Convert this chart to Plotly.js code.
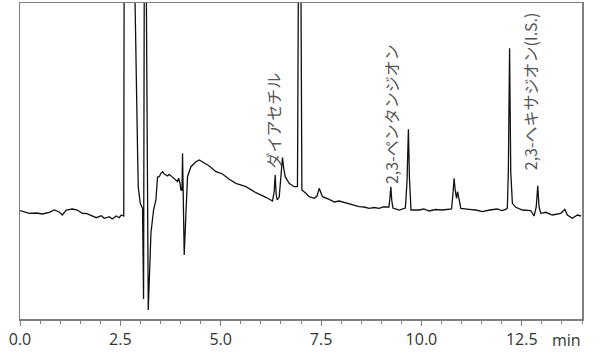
<!DOCTYPE html>
<html>
<head>
<meta charset="utf-8">
<script src="https://cdn.plot.ly/plotly-3.0.1.min.js"></script>
<style>html,body{margin:0;padding:0;background:#fff;}#chart{width:602px;height:353px;}</style>
</head>
<body>
<div id="chart"></div>
<script>
// Retention time (min)
const timeMin = [
  0.000,0.107,0.232,0.406,0.555,0.729,0.854,0.978,1.053,1.153,1.302,1.427,1.551,1.651,1.776,1.900,2.025,2.099,2.224,2.298,2.398,2.473,2.522,2.585,
  2.600,2.800,2.864,2.895,2.928,2.946,2.996,3.053,3.078,3.105,3.120,3.195,
  3.262,3.327,3.386,3.426,3.469,3.511,3.552,3.594,3.636,3.677,3.718,3.801,3.884,3.925,3.950,3.984,4.009,
  4.035,4.049,4.065,4.091,4.134,4.173,4.258,4.382,4.465,4.589,4.716,4.880,5.045,5.212,5.378,5.628,5.876,6.126,6.290,
  6.330,6.357,6.380,6.407,6.457,6.500,6.539,6.565,6.606,6.705,6.830,6.912,6.940,6.965,6.990,7.022,
  7.122,7.204,7.328,7.400,7.453,7.535,7.702,7.830,7.951,8.080,8.200,8.330,8.449,8.570,8.698,8.820,8.947,9.050,9.153,
  9.190,9.215,9.238,9.260,9.290,9.445,9.570,9.600,9.640,9.676,9.700,9.725,9.740,9.944,10.060,10.193,10.350,10.523,10.732,
  10.750,10.785,10.814,10.840,10.860,10.875,10.900,10.925,10.960,10.981,11.188,11.355,11.519,11.700,11.893,12.000,12.102,
  12.140,12.165,12.196,12.225,12.250,12.266,12.351,12.515,12.724,12.806,12.860,12.898,12.930,12.960,12.973,13.098,13.262,13.471,13.571,13.635,13.760,13.885,13.977
];
// Detector signal (arbitrary units, baseline ~0)
const signal = [
  1.3,0.3,-1.3,-1,-2,-0.3,2,0,-3,2,3,2,-1.3,-1.5,-3.7,-5.7,-3.7,-6.3,-4.7,-7,-4,-5.7,-3,-4,
  400,400,215,112,62,25,8.7,3.7,-87,400,400,-98,
  -21,2,12,35,35.3,38.7,40.3,38,37,36,37.7,34.7,32,30.3,33.7,29.3,22,
  22,58.7,20,-43,-1,35.3,45.3,50.3,52,49.3,46,40.3,38,32.7,28.7,25.3,19.3,14.7,11,
  20,37,18,12,15,35,54.5,45,35.3,28.7,25.3,25.3,300,500,300,22,
  18.7,15.3,13.7,16,23.7,15.3,12.7,10,11,9.5,8,6.5,5.3,5,3.7,4.5,3.7,5,5.3,
  5,14,25.3,12,4,2,3.7,4,30,82.7,35,6,2,2,3,1,2.5,2,2.7,
  3,18,33.7,22,14,13.7,20.3,15,5,3.7,2.7,2,0.3,2,3,1.5,2.7,
  4,40,163.7,40,12,8.7,4.7,2,1.3,-4,5,26.3,5,-1,-1.3,-0.3,-3,-1.3,2.7,-3,-6.3,-3,-4
];
// Peak labels
const peakNames = ["ダイアセチル", "2,3-ペンタンジオン", "2,3-ヘキサジオン(I.S.)"];
const peakLabelX = [6.29, 9.245, 12.71];
const peakLabelY = [42, 27, 41];
// Axis ticks
const xTickStart = 0, xTickStep = 2.5, xMinorStep = 0.5;
const xUnit = "min";

const frameColor = '#7f7f7f';
const annotations = peakNames.map((name, i) => ({
  x: peakLabelX[i], y: peakLabelY[i], xref: 'x', yref: 'y',
  text: name, showarrow: false, textangle: -90,
  xanchor: 'center', yanchor: 'bottom', borderpad: 0,
  font: {family: '"Noto Sans CJK JP", "Noto Sans", sans-serif', size: 16, color: '#555'}
}));
annotations.push({
  x: 1, y: 0, xref: 'paper', yref: 'paper', text: xUnit, showarrow: false,
  xanchor: 'right', yanchor: 'middle', yshift: -21, borderpad: 0,
  font: {family: '"Open Sans", sans-serif', size: 16, color: '#333'}
});

Plotly.newPlot('chart', [{
  x: timeMin, y: signal, type: 'scatter', mode: 'lines',
  line: {color: '#111', width: 1.3}, hoverinfo: 'skip', cliponaxis: true
}], {
  width: 602, height: 353,
  margin: {l: 20, r: 20, t: 3, b: 34, pad: 0},
  paper_bgcolor: '#fff', plot_bgcolor: '#fff',
  showlegend: false,
  xaxis: {
    range: [0, 14], showgrid: false, zeroline: false,
    showline: true, linecolor: frameColor, linewidth: 1.5, mirror: true,
    tickmode: 'linear', tick0: xTickStart, dtick: xTickStep, tickformat: '.1f',
    ticks: 'outside', ticklen: 5, tickwidth: 1, tickcolor: frameColor,
    minor: {tick0: xTickStart, dtick: xMinorStep, ticks: 'outside', ticklen: 3, tickwidth: 1, tickcolor: frameColor, showgrid: false},
    tickfont: {family: '"Open Sans", sans-serif', size: 16, color: '#333'}
  },
  yaxis: {
    range: [-107, 209], showgrid: false, zeroline: false,
    showline: true, linecolor: frameColor, linewidth: 1.5, mirror: true,
    showticklabels: false, ticks: ''
  },
  annotations: annotations
}, {staticPlot: true});
</script>
</body>
</html>
